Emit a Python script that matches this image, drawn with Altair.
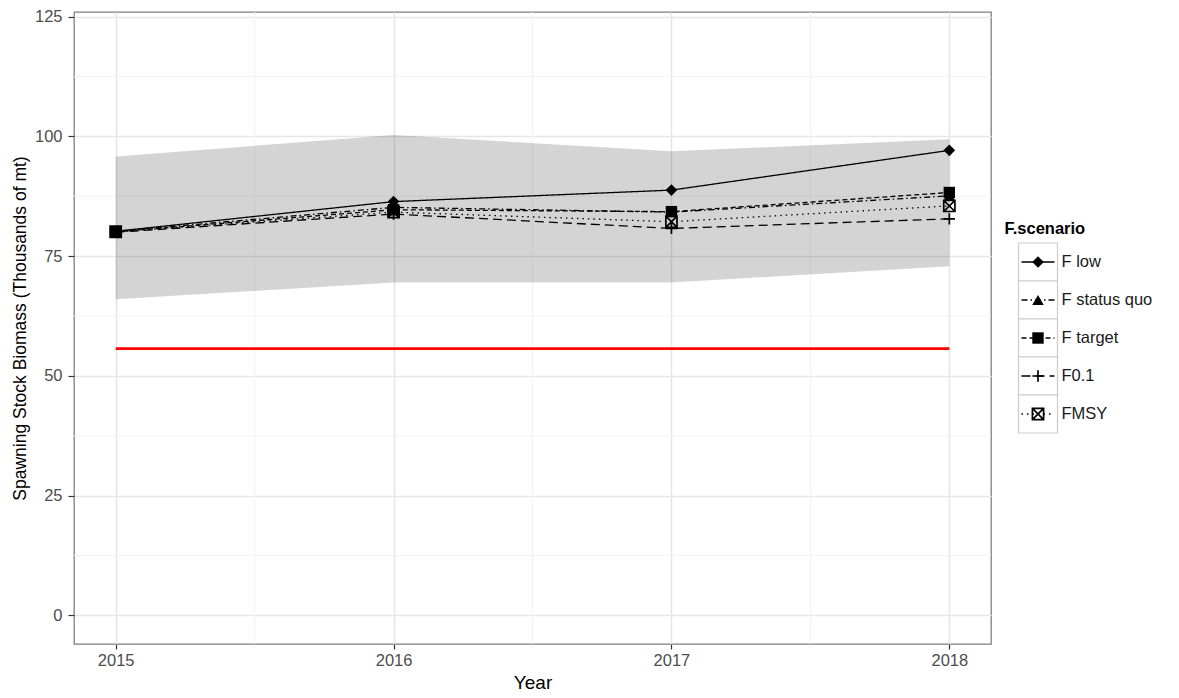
import altair as alt
import pandas as pd

# ---------------- data ----------------
years = [2015, 2016, 2017, 2018]
scenarios = ["F low", "F status quo", "F target", "F0.1", "FMSY"]
f_low = [80.2, 86.4, 88.8, 97.1]
f_status_quo = [80.2, 85.2, 84.2, 87.6]
f_target = [80.1, 84.7, 84.3, 88.3]
f_01 = [80.0, 83.8, 80.8, 82.8]
f_msy = [80.1, 84.2, 82.2, 85.5]
ribbon_lower = [66.0, 69.5, 69.5, 72.9]
ribbon_upper = [95.8, 100.3, 96.9, 99.4]
reference_level = [55.7]
x_ticks = [2015, 2016, 2017, 2018]
x_minor = [2015.5, 2016.5, 2017.5]
y_ticks = [0, 25, 50, 75, 100, 125]
y_minor = [12.5, 37.5, 62.5, 87.5, 112.5]
legend_title_text = ["F.scenario"]

series = [f_low, f_status_quo, f_target, f_01, f_msy]
df = pd.DataFrame(
    [{"Year": y, "SSB": v, "scenario": s}
     for s, vals in zip(scenarios, series) for y, v in zip(years, vals)]
)
ribbon_df = pd.DataFrame({"Year": years, "lower": ribbon_lower, "upper": ribbon_upper})
ref_df = pd.DataFrame({"x": [years[0]], "x2": [years[-1]], "y": reference_level})
xminor_df = pd.DataFrame({"x": x_minor})
yminor_df = pd.DataFrame({"y": y_minor})
legend_df = pd.DataFrame({"scenario": scenarios, "row": list(range(len(scenarios)))})
legend_df["top"] = legend_df["row"] - 0.5
legend_df["bottom"] = legend_df["row"] + 0.5
legend_title_df = pd.DataFrame({"label": legend_title_text, "row": [-0.88]})

FONT = "Liberation Sans"
PANEL_W, PANEL_H = 917, 632

xs = alt.Scale(domain=[2014.85, 2018.15], nice=False, zero=False)
ys = alt.Scale(domain=[-6, 126], nice=False, zero=False)

dash_scale = alt.Scale(domain=scenarios,
                       range=[[1, 0], [6, 3, 1.5, 3], [5, 3], [9, 5], [1.5, 4]])
shape_scale = alt.Scale(domain=scenarios,
                        range=["diamond", "triangle-up", "square",
                               "M-1,0H1M0,-1V1",
                               "M-1,-1H1V1H-1ZM-1,-1L1,1M1,-1L-1,1"])
size_scale = alt.Scale(domain=scenarios, range=[135, 125, 135, 200, 115])

x_axis = alt.Axis(values=x_ticks, format="d", title="Year", grid=True,
                  gridColor="#e6e6e6", gridWidth=1.6, domain=False,
                  tickColor="#333333", tickSize=5, tickWidth=1.2,
                  labelFontSize=16.5, labelColor="#4d4d4d", labelPadding=3,
                  titleFontSize=19, titleFontWeight="normal", titleColor="#000000",
                  titlePadding=5, labelFont=FONT, titleFont=FONT)
y_axis = alt.Axis(values=y_ticks, title="Spawning Stock Biomass (Thousands of mt)",
                  grid=True, gridColor="#e6e6e6", gridWidth=1.6, domain=False,
                  tickColor="#333333", tickSize=6, tickWidth=1.2,
                  labelFontSize=16.5, labelColor="#4d4d4d", labelPadding=6,
                  titleFontSize=17.5, titleFontWeight="normal", titleColor="#000000",
                  titlePadding=5, labelFont=FONT, titleFont=FONT)

minor_v = alt.Chart(xminor_df).mark_rule(color="#f2f2f2", strokeWidth=1).encode(
    x=alt.X("x:Q", scale=xs, axis=x_axis))
minor_h = alt.Chart(yminor_df).mark_rule(color="#f2f2f2", strokeWidth=1).encode(
    y=alt.Y("y:Q", scale=ys, axis=y_axis))

ribbon = alt.Chart(ribbon_df).mark_area(color="#000000", opacity=0.17).encode(
    x=alt.X("Year:Q", scale=xs),
    y=alt.Y("lower:Q", scale=ys),
    y2="upper:Q",
)

ref_line = alt.Chart(ref_df).mark_rule(color="#ff0000", strokeWidth=2.8).encode(
    x=alt.X("x:Q", scale=xs), x2="x2:Q", y=alt.Y("y:Q", scale=ys))

lines = alt.Chart(df).mark_line(color="#000000", strokeWidth=1.3).encode(
    x=alt.X("Year:Q", scale=xs),
    y=alt.Y("SSB:Q", scale=ys),
    detail="scenario:N",
    strokeDash=alt.StrokeDash("scenario:N", scale=dash_scale, legend=None),
)

filled_pts = alt.Chart(df).transform_filter(
    alt.FieldOneOfPredicate(field="scenario", oneOf=scenarios[:3])
).mark_point(filled=True, fill="#000000", strokeWidth=0, opacity=1).encode(
    x=alt.X("Year:Q", scale=xs),
    y=alt.Y("SSB:Q", scale=ys),
    shape=alt.Shape("scenario:N", scale=shape_scale, legend=None),
    size=alt.Size("scenario:N", scale=size_scale, legend=None),
)
stroked_pts = alt.Chart(df).transform_filter(
    alt.FieldOneOfPredicate(field="scenario", oneOf=scenarios[3:])
).mark_point(filled=False, stroke="#000000", strokeWidth=1.7, opacity=1).encode(
    x=alt.X("Year:Q", scale=xs),
    y=alt.Y("SSB:Q", scale=ys),
    shape=alt.Shape("scenario:N", scale=shape_scale, legend=None),
    size=alt.Size("scenario:N", scale=size_scale, legend=None),
)

main = alt.layer(minor_v, minor_h, ribbon, ref_line, lines, filled_pts, stroked_pts).properties(
    width=PANEL_W, height=PANEL_H,
    view=alt.ViewBackground(stroke="#7f7f7f", strokeWidth=1.3),
)

# ---------------- legend panel ----------------
ly = alt.Scale(domain=[-6.579, 10.053], nice=False, zero=False, reverse=True)

boxes = alt.Chart(legend_df).mark_rect(fill="#ffffff", stroke="#cccccc", strokeWidth=1.2).encode(
    y=alt.Y("top:Q", scale=ly, axis=None), y2="bottom:Q",
    x=alt.value(14), x2=alt.value(53),
)
key_lines = alt.Chart(legend_df).mark_rule(color="#000000", strokeWidth=1.3).encode(
    y=alt.Y("row:Q", scale=ly, axis=None),
    x=alt.value(17), x2=alt.value(50),
    strokeDash=alt.StrokeDash("scenario:N", scale=dash_scale, legend=None),
)
key_filled = alt.Chart(legend_df).transform_filter(
    alt.FieldOneOfPredicate(field="scenario", oneOf=scenarios[:3])
).mark_point(filled=True, fill="#000000", strokeWidth=0, opacity=1).encode(
    y=alt.Y("row:Q", scale=ly, axis=None),
    x=alt.value(33.5),
    shape=alt.Shape("scenario:N", scale=shape_scale, legend=None),
    size=alt.Size("scenario:N", scale=size_scale, legend=None),
)
key_stroked = alt.Chart(legend_df).transform_filter(
    alt.FieldOneOfPredicate(field="scenario", oneOf=scenarios[3:])
).mark_point(filled=False, stroke="#000000", strokeWidth=1.7, opacity=1).encode(
    y=alt.Y("row:Q", scale=ly, axis=None),
    x=alt.value(33.5),
    shape=alt.Shape("scenario:N", scale=shape_scale, legend=None),
    size=alt.Size("scenario:N", scale=size_scale, legend=None),
)
key_labels = alt.Chart(legend_df).mark_text(
    align="left", baseline="middle", fontSize=16.5, font=FONT, color="#1a1a1a"
).encode(
    y=alt.Y("row:Q", scale=ly, axis=None),
    x=alt.value(57),
    text="scenario:N",
)
legend_title = alt.Chart(legend_title_df).mark_text(
    align="left", baseline="middle", fontSize=16.5, fontWeight="bold", font=FONT,
    color="#000000"
).encode(
    y=alt.Y("row:Q", scale=ly, axis=None),
    x=alt.value(0),
    text="label:N",
)

legend = alt.layer(boxes, key_lines, key_filled, key_stroked, key_labels, legend_title).properties(
    width=150, height=PANEL_H,
    view=alt.ViewBackground(stroke="transparent"),
)

chart = alt.hconcat(main, legend, spacing=13.5, bounds="flush").properties(
    padding={"left": 2, "top": 0, "right": 5, "bottom": 3},
    background="#ffffff",
).configure(font=FONT)

chart.save("out.html", embed_options={"renderer": "svg", "actions": False})
